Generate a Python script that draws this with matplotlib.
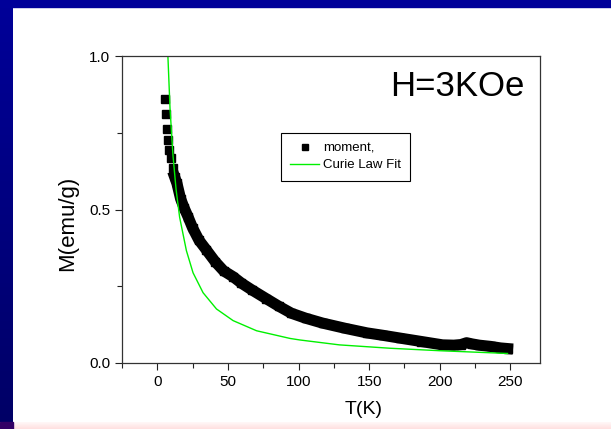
import numpy as np
import matplotlib
matplotlib.use("Agg")
import matplotlib.pyplot as plt
from matplotlib.patches import Rectangle
from matplotlib.lines import Line2D

plt.rcParams['font.family'] = ['Liberation Sans', 'DejaVu Sans']

T_moment = [5.2, 5.9, 6.8, 7.5, 8.2, 9.4, 11.0, 12.2, 13.9, 16.5, 19.0, 21.7, 25.0,
            29.5, 34.8, 41, 47, 53.7, 59.6, 67, 77, 86, 95, 105, 117, 133, 148.5,
            160, 172, 187, 202, 210, 215, 219, 223, 228, 236, 243, 248]
M_moment = [0.86, 0.811, 0.761, 0.726, 0.694, 0.667, 0.635, 0.607, 0.585, 0.535,
            0.505, 0.477, 0.44, 0.40, 0.368, 0.33, 0.30, 0.281, 0.26, 0.238, 0.21,
            0.185, 0.162, 0.146, 0.13, 0.113, 0.098, 0.090, 0.081, 0.070, 0.059,
            0.058, 0.060, 0.066, 0.062, 0.058, 0.054, 0.049, 0.047]

# Curie law fit curve
T_fit = [7.0, 7.5, 9.0, 11.1, 13.3, 15.8, 20.6, 25.3, 32.4, 41.9, 53.7, 70.3, 94,
         101, 129, 165, 200, 243, 248]
M_fit = [1.07, 1.0, 0.83, 0.676, 0.565, 0.475, 0.366, 0.294, 0.229, 0.176, 0.138,
         0.105, 0.08, 0.075, 0.059, 0.048, 0.040, 0.032, 0.031]

x_ticks = [0, 50, 100, 150, 200, 250]
y_ticks = [0.0, 0.5, 1.0]

W, H = 611, 429
fig = plt.figure(figsize=(W / 100, H / 100), dpi=100, facecolor='white')

# slide-like background
bg = fig.add_axes([0, 0, 1, 1], zorder=-1)
bg.axis('off')
grad = np.linspace([0, 0, 0.6], [0, 0, 0.4], 100).reshape(100, 1, 3)
bg.imshow(grad, extent=(0, 13, 422, 0), aspect='auto')
bg.add_patch(Rectangle((0, 0), W, 7, color='#000099'))
pink = np.linspace([1.0, 0.97, 0.97], [1.0, 0.88, 0.88], 10).reshape(10, 1, 3)
bg.imshow(pink, extent=(13, W, 429, 422), aspect='auto')
bg.add_patch(Rectangle((0, 422), 13, 7, color='#330066'))
bg.set_xlim(0, W)
bg.set_ylim(H, 0)

ax = fig.add_axes([122 / W, 66 / H, 418 / W, 307 / H])
ax.plot(T_moment[7:], M_moment[7:], color='black', lw=8, solid_capstyle='projecting')
ax.plot(T_moment, M_moment, ls='none', marker='s', ms=6, color='black')
ax.plot(T_fit, M_fit, color='#00f000', lw=1)

ax.set_xlim(-25, 271)
ax.set_ylim(0, 1.0)
ax.set_xticks(x_ticks)
ax.set_xticks([-25, 25, 75, 125, 175, 225], minor=True)
ax.set_yticks(y_ticks)
ax.set_yticklabels(['0.0', '0.5', '1.0'])
ax.set_yticks([0.25, 0.75], minor=True)
ax.tick_params(which='both', direction='out', top=False, right=False,
               labelsize=11, width=0.8, color='#222222')
ax.tick_params(which='major', length=5)
ax.tick_params(which='minor', length=3.5)
for s in ax.spines.values():
    s.set_color('#333333')
    s.set_linewidth(0.9)

ax.set_xlabel('T(K)', fontsize=14)
ax.set_ylabel('M(emu/g)', fontsize=16)
ax.xaxis.set_label_coords(0.577, -0.125)
ax.yaxis.set_label_coords(-0.105, 0.456)

ax.text(0.641, 0.956, 'H=3KOe', transform=ax.transAxes, fontsize=25,
        ha='left', va='top')

handles = [Line2D([], [], ls='none', marker='s', ms=5, color='black'),
           Line2D([], [], color='#00f000', lw=1)]
leg = ax.legend(handles, ['moment,', 'Curie Law Fit'], loc='upper left',
                bbox_to_anchor=(0.38, 0.749), borderaxespad=0, fontsize=9.5,
                frameon=True, fancybox=False, edgecolor='black', framealpha=1,
                handlelength=2.2, handletextpad=0.3, borderpad=0.7,
                labelspacing=0.35)
leg.get_frame().set_linewidth(0.8)

fig.savefig('out.png', dpi=100, facecolor='white')
